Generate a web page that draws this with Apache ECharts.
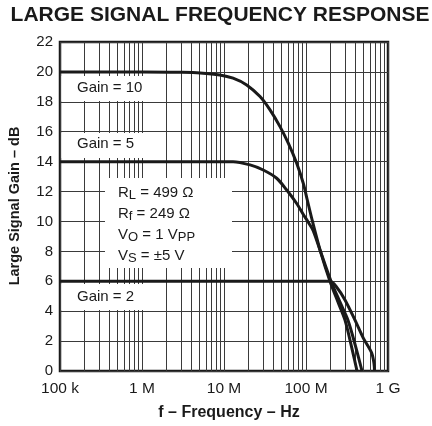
<!DOCTYPE html>
<html>
<head>
<meta charset="utf-8">
<script src="https://cdn.jsdelivr.net/npm/echarts@6/dist/echarts.min.js"></script>
<style>
  html, body { margin: 0; padding: 0; background: #fff; }
  #chart { width: 432px; height: 426px; }
</style>
</head>
<body>
<div id="chart"></div>
<script>
// Axis ticks
const decadeTicks = [1e5, 1e6, 1e7, 1e8, 1e9];
const decadeLabels = ['100 k', '1 M', '10 M', '100 M', '1 G'];
const gainTicks = [0, 2, 4, 6, 8, 10, 12, 14, 16, 18, 20, 22];

// Gain = 10 response
const gain10Freq = [1e5, 1e6, 3e6, 5.1e6, 8.9e6, 12.9e6, 18.9e6, 27.5e6, 36.4e6, 48.2e6, 60.8e6, 77e6, 92.7e6, 103e6, 120e6, 150e6, 196e6, 250e6, 299e6, 360e6, 419e6];
const gain10dB   = [20, 20, 19.97, 19.93, 19.8, 19.58, 19.13, 18.35, 17.46, 16.34, 15.23, 13.89, 12.55, 11.5, 10.0, 8.0, 6.0, 4.5, 3.4, 1.6, 0];

// Gain = 5 response
const gain5Freq = [1e5, 5e6, 12.9e6, 20.8e6, 30.1e6, 43.9e6, 58.2e6, 77e6, 92e6, 108e6, 122e6, 150e6, 202e6, 260e6, 325e6, 400e6, 482e6];
const gain5dB   = [14, 14, 14, 13.78, 13.44, 12.89, 12.1, 11.2, 10.5, 9.9, 9.4, 8.0, 6.0, 4.6, 3.4, 1.7, 0];

// Gain = 2 response
const gain2Freq = [1e5, 1e7, 1e8, 196e6, 237e6, 299e6, 396e6, 500e6, 633e6, 675e6, 685e6];
const gain2dB   = [6, 6, 6, 6, 5.6, 4.75, 3.4, 2.2, 1.2, 0.5, 0];

// Minor frequency gridlines (2..9 within each decade)
const minorFreq = [];
for (let d = 5; d < 9; d++) {
  for (let m = 2; m <= 9; m++) minorFreq.push(m * Math.pow(10, d));
}

const FONT = '"Liberation Sans", Arial, Helvetica, sans-serif';
const INK = '#1a1a1a';
const GRID = '#3a3a3a';

function pairs(xs, ys) { return xs.map((x, i) => [x, ys[i]]); }

const chart = echarts.init(document.getElementById('chart'), null, { renderer: 'canvas' });

const curveStyle = { color: INK, width: 3 };

// white panels that sit over the grid behind the annotations
function panel(x, y, w, h) {
  return { type: 'rect', zlevel: 1, z: 1, silent: true, shape: { x: x, y: y, width: w, height: h }, style: { fill: '#fff' } };
}
function note(x, y, txt) {
  return { type: 'text', zlevel: 1, z: 2, silent: true, x: x, y: y, style: { text: txt, font: '15px ' + FONT, fill: INK, verticalAlign: 'middle' } };
}

chart.setOption({
  animation: false,
  backgroundColor: '#fff',
  grid: { left: 60, right: 44, top: 42, bottom: 55, show: true, borderColor: INK, borderWidth: 2.5, backgroundColor: 'transparent' },
  xAxis: {
    type: 'log', logBase: 10, min: decadeTicks[0], max: decadeTicks[decadeTicks.length - 1],
    axisLine: { show: false },
    axisTick: { show: false },
    axisLabel: {
      margin: 10, fontFamily: FONT, fontSize: 15.5, color: INK,
      formatter: v => { const i = decadeTicks.findIndex(t => Math.abs(Math.log10(t) - Math.log10(v)) < 1e-6); return i >= 0 ? decadeLabels[i] : ''; }
    },
    splitLine: { show: true, lineStyle: { color: GRID, width: 1 } }
  },
  yAxis: {
    type: 'value', min: gainTicks[0], max: gainTicks[gainTicks.length - 1], interval: 2,
    axisLine: { show: false },
    axisTick: { show: false },
    axisLabel: { margin: 7, fontFamily: FONT, fontSize: 15, color: INK },
    splitLine: { show: true, lineStyle: { color: GRID, width: 1 } }
  },
  graphic: [
    {
      type: 'text', zlevel: 1, silent: true, x: 220, y: 15,
      style: { text: 'LARGE SIGNAL FREQUENCY RESPONSE', font: 'bold 21px ' + FONT, fill: INK, align: 'center', verticalAlign: 'middle' }
    },
    panel(61.5, 76, 100, 25),
    panel(61.5, 133, 100, 25),
    panel(61.5, 284, 100, 26),
    panel(105, 178, 127, 90),
    note(77, 88, 'Gain = 10'),
    note(77, 144, 'Gain = 5'),
    note(77, 297, 'Gain = 2'),
    {
      type: 'text', zlevel: 1, z: 2, silent: true, x: 118, y: 185,
      style: {
        text: '{m|R}{s|L}{m| = 499 Ω}\n{m|R}{s|f}{m| = 249 Ω}\n{m|V}{s|O}{m| = 1 V}{s|PP}\n{m|V}{s|S}{m| = ±5 V}',
        fill: INK,
        rich: {
          m: { fontFamily: FONT, fontSize: 15, lineHeight: 21, verticalAlign: 'top', fill: INK, padding: [0, 0, 0, 0] },
          s: { fontFamily: FONT, fontSize: 13, lineHeight: 21, verticalAlign: 'top', fill: INK, padding: [4, 0, 0, 0] }
        }
      }
    },
    {
      type: 'text', zlevel: 1, silent: true, x: 229, y: 413,
      style: { text: 'f – Frequency – Hz', font: 'bold 16px ' + FONT, fill: INK, align: 'center', verticalAlign: 'middle' }
    },
    {
      type: 'text', zlevel: 1, silent: true, x: 15, y: 206, rotation: Math.PI / 2,
      style: { text: 'Large Signal Gain – dB', font: 'bold 14.5px ' + FONT, fill: INK, align: 'center', verticalAlign: 'middle' }
    }
  ],
  series: [
    {
      name: 'grid-minor', type: 'line', data: [], z: 1, silent: true,
      markLine: {
        silent: true, symbol: 'none', animation: false,
        label: { show: false },
        lineStyle: { color: GRID, width: 1, type: 'solid' },
        data: minorFreq.map(f => ({ xAxis: f }))
      }
    },
    { name: 'Gain = 10', type: 'line', z: 6, showSymbol: false, smooth: 0.3, lineStyle: curveStyle, data: pairs(gain10Freq, gain10dB) },
    { name: 'Gain = 5', type: 'line', z: 6, showSymbol: false, smooth: 0.3, lineStyle: curveStyle, data: pairs(gain5Freq, gain5dB) },
    { name: 'Gain = 2', type: 'line', z: 6, showSymbol: false, smooth: 0.3, lineStyle: curveStyle, data: pairs(gain2Freq, gain2dB) }
  ]
});
</script>
</body>
</html>
